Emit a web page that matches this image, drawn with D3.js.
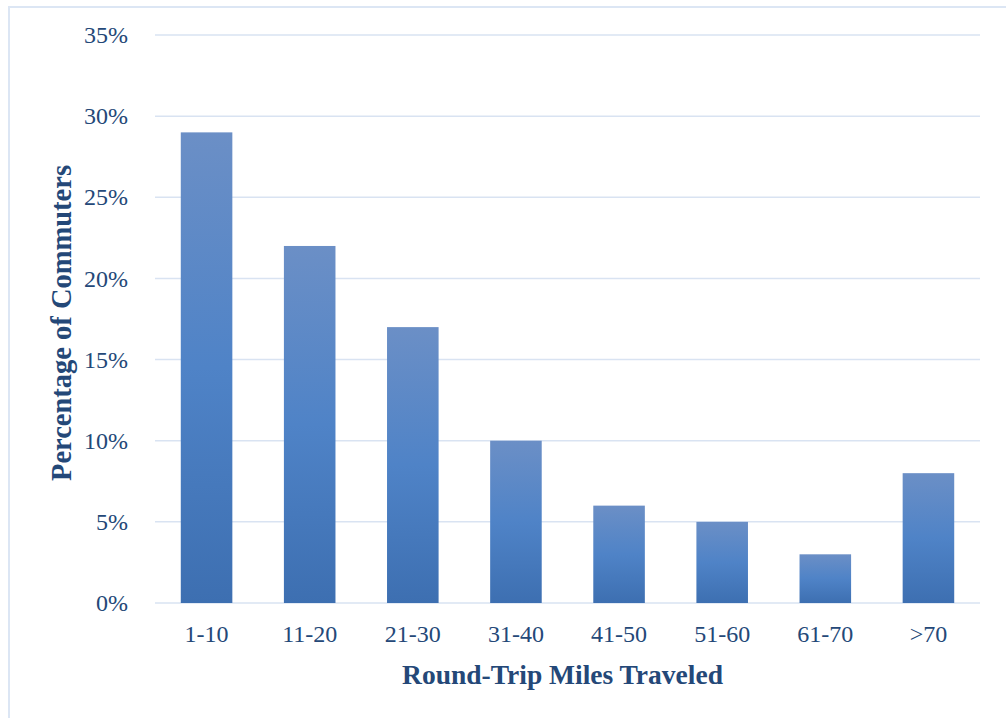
<!DOCTYPE html>
<html lang="en">
<head>
    <meta charset="UTF-8">
    <title>Round-Trip Miles Traveled</title>
    <style>
        body {
            margin: 0;
            background: #fff;
        }
        svg {
            display: block;
        }
        .tick text {
            font-family: "Liberation Serif", "Times New Roman", serif;
            font-size: 24px;
            fill: #244878;
        }
        .axis-label {
            font-family: "Liberation Serif", "Times New Roman", serif;
            font-weight: bold;
            fill: #244878;
        }
    </style>
    <script src="https://d3js.org/d3.v7.min.js"></script>
</head>
<body>
    <svg id="chart" width="1006" height="718"></svg>
    <script>
        const categories = ["1-10", "11-20", "21-30", "31-40", "41-50", "51-60", "61-70", ">70"];
        const percentages = [29, 22, 17, 10, 6, 5, 3, 8];
        const yTicks = [0, 5, 10, 15, 20, 25, 30, 35];

        const svg = d3.select("#chart");
        const margin = { top: 35, right: 26, bottom: 115, left: 155 };
        const width = 1006 - margin.left - margin.right;
        const height = 718 - margin.top - margin.bottom;

        // outer frame (only top and left edges fall inside the picture)
        svg.append("rect")
            .attr("x", 9)
            .attr("y", 7)
            .attr("width", 1100)
            .attr("height", 800)
            .attr("fill", "none")
            .attr("stroke", "#dce6f4")
            .attr("stroke-width", 2);

        const defs = svg.append("defs");
        const grad = defs.append("linearGradient")
            .attr("id", "barGrad")
            .attr("x1", 0).attr("y1", 0)
            .attr("x2", 0).attr("y2", 1);
        grad.append("stop").attr("offset", "0%").attr("stop-color", "#6b8fc6");
        grad.append("stop").attr("offset", "50%").attr("stop-color", "#4f83c7");
        grad.append("stop").attr("offset", "100%").attr("stop-color", "#3d6fb1");

        const chart = svg.append("g")
            .attr("transform", `translate(${margin.left},${margin.top})`);

        const x = d3.scaleBand()
            .domain(categories)
            .range([0, width])
            .paddingInner(0.5)
            .paddingOuter(0.25);

        const y = d3.scaleLinear()
            .domain([0, 35])
            .range([height, 0]);

        // gridlines
        chart.append("g")
            .selectAll("line")
            .data(yTicks)
            .enter().append("line")
            .attr("x1", 0)
            .attr("x2", width)
            .attr("y1", d => y(d))
            .attr("y2", d => y(d))
            .attr("stroke", "#d9e3f2")
            .attr("stroke-width", 1.5);

        // bars
        chart.append("g")
            .selectAll("rect")
            .data(percentages)
            .enter().append("rect")
            .attr("x", (d, i) => x(categories[i]))
            .attr("y", d => y(d))
            .attr("width", x.bandwidth())
            .attr("height", d => y(0) - y(d))
            .attr("fill", "url(#barGrad)");

        // y axis
        const yAxis = chart.append("g")
            .call(d3.axisLeft(y).tickValues(yTicks).tickFormat(d => d + "%").tickSize(0).tickPadding(27));
        yAxis.select(".domain").remove();

        // x axis
        const xAxis = chart.append("g")
            .attr("transform", `translate(0,${height})`)
            .call(d3.axisBottom(x).tickSize(0).tickPadding(22));
        xAxis.select(".domain").remove();

        chart.append("text")
            .attr("class", "axis-label")
            .attr("x", width / 2 - 5)
            .attr("y", height + 81)
            .attr("text-anchor", "middle")
            .style("font-size", "27.5px")
            .text("Round-Trip Miles Traveled");

        chart.append("text")
            .attr("class", "axis-label")
            .attr("transform", "rotate(-90)")
            .attr("x", -height / 2 - 4)
            .attr("y", -84)
            .attr("text-anchor", "middle")
            .style("font-size", "28.5px")
            .text("Percentage of Commuters");
    </script>
</body>
</html>
